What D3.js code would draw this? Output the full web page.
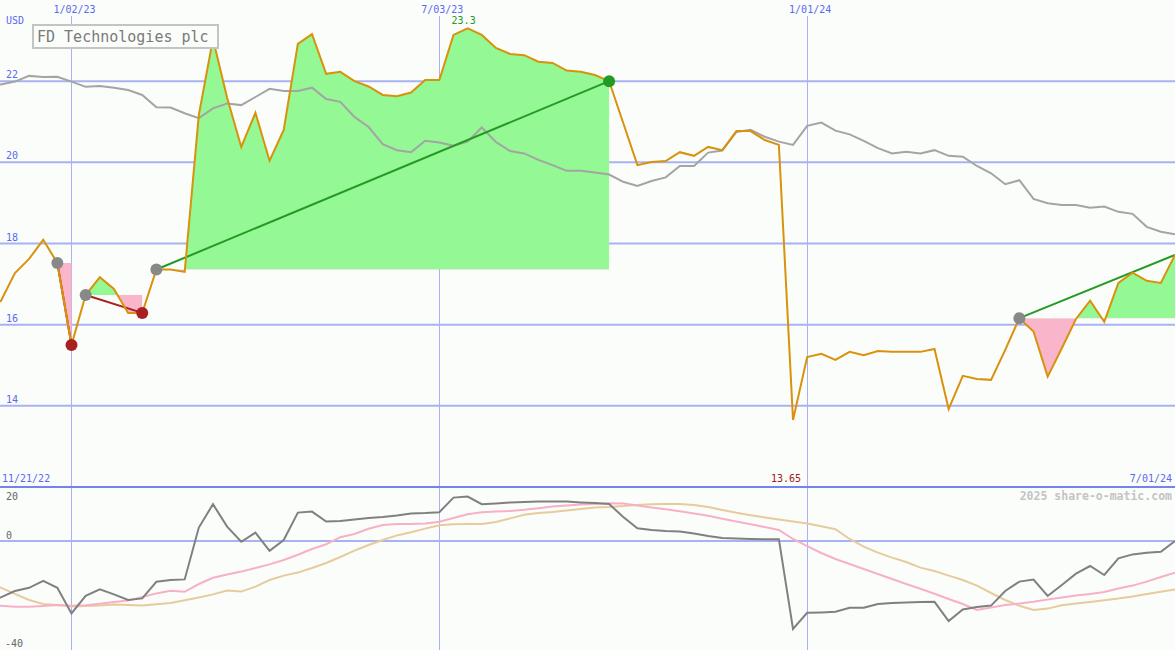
<!DOCTYPE html>
<html>
<head>
<meta charset="utf-8">
<script src="https://cdn.jsdelivr.net/npm/d3@7"></script>
<style>
  body { margin: 0; background: #fbfdfb; }
  svg { display: block; }
  text { font-family: "DejaVu Sans Mono", monospace; }
</style>
</head>
<body>
<svg id="chart" width="1175" height="650"></svg>
<script>
// weekly closes, FD Technologies plc, 11/21/22 .. 7/01/24
const weeks = d3.timeMonday.range(new Date(2022, 10, 21), new Date(2024, 6, 2))

const price = [16.60, 16.58, 17.27, 17.62, 18.09, 17.52, 15.50, 16.73, 17.17, 16.88,
  16.29, 16.29, 17.36, 17.36, 17.30, 21.17, 23.04, 21.59, 20.38, 21.22,
  20.04, 20.80, 22.92, 23.16, 22.18, 22.23, 22.00, 21.87, 21.66, 21.63,
  21.72, 22.03, 22.03, 23.14, 23.30, 23.14, 22.82, 22.67, 22.64, 22.48,
  22.45, 22.26, 22.23, 22.15, 22.00, 20.97, 19.93, 20.01, 20.03, 20.25,
  20.16, 20.38, 20.30, 20.77, 20.77, 20.55, 20.43, 13.65, 15.20, 15.28,
  15.13, 15.33, 15.25, 15.35, 15.33, 15.33, 15.33, 15.40, 13.92, 14.74,
  14.66, 14.64, 15.38, 16.16, 15.83, 14.72, 15.42, 16.14, 16.59, 16.07,
  17.03, 17.28, 17.08, 17.03, 17.72]

// grey comparison line
const relative = [21.90, 21.92, 21.99, 22.13, 22.10, 22.11, 21.99, 21.86, 21.88, 21.84,
  21.78, 21.66, 21.36, 21.35, 21.21, 21.09, 21.33, 21.45, 21.41, 21.61,
  21.81, 21.76, 21.76, 21.84, 21.56, 21.49, 21.12, 20.87, 20.45, 20.30,
  20.25, 20.53, 20.49, 20.41, 20.51, 20.86, 20.50, 20.28, 20.22, 20.06,
  19.93, 19.79, 19.79, 19.75, 19.70, 19.52, 19.42, 19.54, 19.63, 19.91,
  19.91, 20.24, 20.29, 20.75, 20.80, 20.63, 20.51, 20.43, 20.90, 20.98,
  20.78, 20.69, 20.53, 20.35, 20.22, 20.26, 20.22, 20.30, 20.16, 20.14,
  19.91, 19.73, 19.46, 19.56, 19.10, 18.99, 18.95, 18.95, 18.88, 18.91,
  18.78, 18.73, 18.41, 18.29, 18.23]

// lower panel oscillators
const osc = [-30, -28.2, -25, -23.4, -19.9, -23.4, -36.2, -27.4, -24.2, -26.7,
  -29.5, -28.7, -20.4, -19.5, -19.2, 6.7, 18.4, 7.2, -0.4, 4.2,
  -4.9, 0.5, 14.2, 14.7, 9.7, 10, 10.8, 11.5, 12, 12.8,
  13.8, 14, 14.4, 21.7, 22.2, 18.4, 18.8, 19.3, 19.5, 19.7,
  19.7, 19.7, 19.3, 19, 18.5, 12, 6.4, 5.5, 5, 4.7,
  3.8, 2.5, 1.5, 1.2, 1, 0.9, 0.9, -44, -35.9, -35.7,
  -35.4, -33.4, -33.4, -31.5, -31, -30.8, -30.5, -30.4, -40, -34.2,
  -33, -32.3, -25, -20.3, -19.3, -27.5, -22, -16.3, -12.5, -17,
  -8.7, -6.7, -5.9, -5.4, 0]

const oscFast = [-32, -32.4, -32.9, -32.9, -32.5, -32, -32.4, -32.1, -31.4, -30.5,
  -29.8, -28, -26.2, -24.9, -25.4, -21.5, -18.4, -16.8, -15.3, -13.5,
  -11.7, -9.5, -6.9, -4, -1.6, 1.9, 3.5, 6.1, 8, 8.5,
  8.5, 8.8, 9.6, 11.5, 13.4, 14.4, 14.8, 15, 15.6, 16.4,
  17.2, 17.8, 18.3, 18.5, 18.9, 18.7, 17.8, 16.8, 15.9, 14.9,
  13.8, 12.6, 11.1, 9.7, 8.4, 7, 5.5, 1, -2.6, -6,
  -9, -11.5, -14, -16.5, -19, -21.5, -23.9, -26.4, -29, -31.5,
  -34.5, -33.3, -32, -31.3, -30.4, -29.3, -28.3, -27.3, -26.5, -25.5,
  -23.8, -22.3, -20.3, -18, -15.9]

const oscSlow = [-20, -23.3, -26.4, -29.5, -31.5, -32, -32.8, -32.5, -32.3, -31.8,
  -32, -32.3, -31.6, -31, -29.6, -28.2, -26.7, -24.8, -25.3, -22.8,
  -19.5, -17.3, -15.8, -13.5, -11, -8, -4.8, -2, 0.5, 2.8,
  4.4, 6.2, 7.9, 8.4, 8.5, 8.5, 9.5, 11.3, 13.1, 14,
  14.5, 15.3, 16, 16.7, 17, 17.5, 18, 18.4, 18.5, 18.5,
  18, 17, 15.5, 14.1, 12.9, 11.8, 10.7, 9.7, 8.8, 7.4,
  5.9, 1, -2.8, -5.8, -8.3, -10.5, -13.3, -15, -17.3, -19.5,
  -22.3, -26, -29.5, -32.4, -34.5, -33.8, -32.1, -31.3, -30.5, -29.6,
  -28.8, -27.8, -26.5, -25.4, -24.2]

// trend segments (week index of start / end)
const segStart = [5, 7, 12, 73]
const segEnd = [6, 11, 44, 84]

const priceTicks = [14, 16, 18, 20, 22]
const dateTicks = [new Date(2023, 0, 2), new Date(2023, 6, 3), new Date(2024, 0, 1)]
const dateFmt = d3.timeFormat("%-m/%d/%y")

const W = 1175, H = 650, split = 487

const svg = d3.select("#chart")
svg.append("rect").attr("width", W).attr("height", H).attr("fill", "#fbfdfb")

const x = d3.scaleTime().domain([new Date(2023, 0, 2), new Date(2024, 6, 1)]).range([71.5, 1175])
const y = d3.scaleLinear().domain([12, 24]).range([split, 0])
const y2 = d3.scaleLinear().domain([-54.5, 27]).range([H, split])

const defs = svg.append("defs")
defs.append("clipPath").attr("id", "clipTop")
  .append("rect").attr("x", 0).attr("y", 0).attr("width", W).attr("height", split)
defs.append("clipPath").attr("id", "clipBot")
  .append("rect").attr("x", 0).attr("y", split).attr("width", W).attr("height", H - split)

const blue = "#5a6af0"
const grid = "#a8b2f2"

// grid
svg.selectAll(".hgrid").data(priceTicks).join("line")
  .attr("x1", 0).attr("x2", W)
  .attr("y1", (d) => y(d)).attr("y2", (d) => y(d))
  .attr("stroke", grid).attr("stroke-width", 2)
svg.append("line").attr("x1", 0).attr("x2", W)
  .attr("y1", y2(0)).attr("y2", y2(0))
  .attr("stroke", grid).attr("stroke-width", 2)
svg.selectAll(".vgrid").data(dateTicks).join("line")
  .attr("x1", (d) => Math.floor(x(d)) + 0.5).attr("x2", (d) => Math.floor(x(d)) + 0.5)
  .attr("y1", 16).attr("y2", H)
  .attr("stroke", grid).attr("stroke-width", 1)

const rows = weeks.map((d, i) => ({ date: d, i, p: price[i], r: relative[i], o: osc[i], f: oscFast[i], s: oscSlow[i] }))

// trend fills
const gTop = svg.append("g").attr("clip-path", "url(#clipTop)")
segStart.forEach((s, n) => {
  const e = segEnd[n]
  const base = price[s]
  const part = rows.slice(s, e + 1)
  defs.append("clipPath").attr("id", `up${n}`)
    .append("rect").attr("x", 0).attr("y", 0).attr("width", W).attr("height", y(base))
  defs.append("clipPath").attr("id", `dn${n}`)
    .append("rect").attr("x", 0).attr("y", y(base)).attr("width", W).attr("height", split - y(base))
  const area = d3.area().x((d) => x(d.date)).y0(y(base)).y1((d) => y(d.p))
  gTop.append("path").datum(part).attr("d", area).attr("fill", "#94f894").attr("clip-path", `url(#up${n})`)
  gTop.append("path").datum(part).attr("d", area).attr("fill", "#f9b6ca").attr("clip-path", `url(#dn${n})`)
})

// grey comparison line
gTop.append("path").datum(rows)
  .attr("d", d3.line().x((d) => x(d.date)).y((d) => y(d.r)))
  .attr("fill", "none").attr("stroke", "#a4a4a4").attr("stroke-width", 2)

// trend lines (under the price line)
const segColor = (n) => (price[segEnd[n]] > price[segStart[n]] ? "#249a24" : "#a82020")
segStart.forEach((s, n) => {
  const e = segEnd[n]
  gTop.append("line")
    .attr("x1", x(weeks[s])).attr("y1", y(price[s]))
    .attr("x2", x(weeks[e])).attr("y2", y(price[e]))
    .attr("stroke", segColor(n)).attr("stroke-width", 2)
})

gTop.append("path").datum(rows)
  .attr("d", d3.line().x((d) => x(d.date)).y((d) => y(d.p)))
  .attr("fill", "none").attr("stroke", "#d8920c").attr("stroke-width", 2)

// segment dots
segStart.forEach((s, n) => {
  const e = segEnd[n]
  gTop.append("circle").attr("cx", x(weeks[s])).attr("cy", y(price[s])).attr("r", 6).attr("fill", "#888")
  if (e < weeks.length - 1)
    gTop.append("circle").attr("cx", x(weeks[e])).attr("cy", y(price[e])).attr("r", 6).attr("fill", segColor(n))
})

// lower panel
const gBot = svg.append("g").attr("clip-path", "url(#clipBot)")
gBot.append("path").datum(rows)
  .attr("d", d3.line().x((d) => x(d.date)).y((d) => y2(d.s)))
  .attr("fill", "none").attr("stroke", "#e6cc9c").attr("stroke-width", 2)
gBot.append("path").datum(rows)
  .attr("d", d3.line().x((d) => x(d.date)).y((d) => y2(d.f)))
  .attr("fill", "none").attr("stroke", "#f8b0c6").attr("stroke-width", 2)
gBot.append("path").datum(rows)
  .attr("d", d3.line().x((d) => x(d.date)).y((d) => y2(d.o)))
  .attr("fill", "none").attr("stroke", "#808080").attr("stroke-width", 2)

svg.append("line").attr("x1", 0).attr("x2", W).attr("y1", split).attr("y2", split)
  .attr("stroke", "#7484ec").attr("stroke-width", 2)

// labels
svg.selectAll(".ptick").data(priceTicks).join("text")
  .attr("x", 6).attr("y", (d) => y(d) - 3)
  .attr("font-size", 10).attr("fill", blue).text((d) => d)
svg.append("text").attr("x", 6).attr("y", 24).attr("font-size", 10).attr("fill", blue).text("USD")
svg.selectAll(".dtick").data(dateTicks).join("text")
  .attr("x", (d) => x(d) + 3).attr("y", 13).attr("text-anchor", "middle")
  .attr("font-size", 10).attr("fill", blue).text((d) => dateFmt(d))
svg.append("text").attr("x", 2).attr("y", 482).attr("font-size", 10).attr("fill", blue)
  .text(dateFmt(weeks[0]))
svg.append("text").attr("x", 1172).attr("y", 482).attr("text-anchor", "end").attr("font-size", 10).attr("fill", blue)
  .text(dateFmt(weeks[weeks.length - 1]))

const hiIdx = d3.maxIndex(price), loIdx = d3.minIndex(price)
svg.append("text").attr("x", x(weeks[hiIdx]) - 4).attr("y", 24).attr("text-anchor", "middle")
  .attr("font-size", 10).attr("fill", "#249a24").text(price[hiIdx])
svg.append("text").attr("x", x(weeks[loIdx]) - 7).attr("y", 482).attr("text-anchor", "middle")
  .attr("font-size", 10).attr("fill", "#a01818").text(price[loIdx].toFixed(2))

svg.append("text").attr("x", 6).attr("y", 500).attr("font-size", 10).attr("fill", "#666").text("20")
svg.append("text").attr("x", 6).attr("y", y2(0) - 2).attr("font-size", 10).attr("fill", "#666").text("0")
svg.append("text").attr("x", 5).attr("y", 647).attr("font-size", 10).attr("fill", "#666").text("-40")

svg.append("text").attr("x", 1172).attr("y", 500).attr("text-anchor", "end")
  .attr("font-size", 11.5).attr("font-weight", "bold").attr("fill", "#c4c4c4").text("2025 share-o-matic.com")

// title box
svg.append("rect").attr("x", 33).attr("y", 25).attr("width", 185).attr("height", 23)
  .attr("fill", "#fbfdfb").attr("stroke", "#c4c4c4").attr("stroke-width", 2)
svg.append("text").attr("x", 37).attr("y", 42).attr("font-size", 15).attr("fill", "#7a7a7a")
  .text("FD Technologies plc")
</script>
</body>
</html>
